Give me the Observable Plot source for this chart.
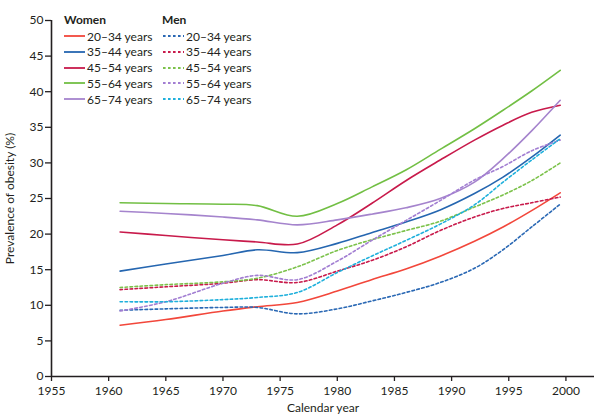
<!DOCTYPE html>
<html>
<head>
<meta charset="utf-8">
<script src="https://cdn.jsdelivr.net/npm/d3@7"></script>
<script src="https://cdn.jsdelivr.net/npm/@observablehq/plot@0.6"></script>
<style>
  html, body { margin: 0; padding: 0; background: #fff; }
  #wrap { position: relative; width: 600px; height: 418px; font-family: Lato, "Open Sans", sans-serif; color: #231f20; }
  #legend { position: absolute; left: 0; top: 0; font-size: 12px; }
  .lg-title { position: absolute; font-weight: bold; }
  .lg-row { position: absolute; display: flex; align-items: center; white-space: nowrap; }
  .lg-row svg { margin-right: 2px; }
</style>
</head>
<body>
<div id="wrap"><div id="chart"></div><div id="legend"></div></div>
<script>
// ---- data ----
const years = [1961, 1965, 1970, 1973, 1976.5, 1980, 1983, 1986, 1989, 1992, 1994.5, 1997, 1999.5];
const ageGroups = ["20–34 years", "35–44 years", "45–54 years", "55–64 years", "65–74 years"];
const womenColors = ["#f2473b", "#2566b0", "#c81a4b", "#72bf44", "#a584cd"];
const menColors   = ["#2a68b4", "#c81a4b", "#7cc24b", "#a27ed2", "#1fb0dc"];
const women20_34 = [7.2, 8.0, 9.2, 9.8, 10.4, 12.0, 13.6, 15.1, 16.9, 19.0, 21.0, 23.3, 25.8];
const women35_44 = [14.8, 15.8, 17.0, 17.8, 17.4, 18.7, 20.2, 21.7, 23.4, 25.7, 28.0, 30.8, 33.9];
const women45_54 = [20.3, 19.8, 19.2, 18.9, 18.6, 21.3, 24.3, 27.5, 30.4, 33.2, 35.3, 37.1, 38.1];
const women55_64 = [24.4, 24.3, 24.2, 24.0, 22.5, 24.3, 26.6, 29.0, 31.9, 34.8, 37.4, 40.1, 43.0];
const women65_74 = [23.2, 22.9, 22.4, 22.0, 21.3, 22.0, 22.8, 23.7, 25.0, 27.3, 30.6, 34.5, 38.8];
const men20_34 = [9.3, 9.5, 9.7, 9.7, 8.8, 9.5, 10.6, 11.8, 13.2, 15.2, 17.8, 21.0, 24.2];
const men35_44 = [12.2, 12.6, 13.1, 13.6, 13.2, 14.8, 16.3, 18.2, 20.5, 22.4, 23.6, 24.4, 25.2];
const men45_54 = [12.5, 12.9, 13.3, 13.8, 15.4, 17.7, 19.2, 20.5, 21.8, 23.8, 25.5, 27.5, 30.0];
const men55_64 = [9.2, 10.5, 13.1, 14.2, 13.6, 16.2, 19.1, 21.9, 24.7, 27.6, 29.5, 31.7, 33.2];
const men65_74 = [10.5, 10.5, 10.8, 11.1, 11.8, 14.6, 16.9, 19.1, 21.4, 24.1, 27.3, 30.4, 33.4];
const xTicks = [1955, 1960, 1965, 1970, 1975, 1980, 1985, 1990, 1995, 2000];
const yTicks = [0, 5, 10, 15, 20, 25, 30, 35, 40, 45, 50];

const womenSeries = [women20_34, women35_44, women45_54, women55_64, women65_74];
const menSeries = [men20_34, men35_44, men45_54, men55_64, men65_74];

function rows(seriesList, sex) {
  const out = [];
  seriesList.forEach((vals, i) => {
    vals.forEach((v, j) => out.push({sex, group: ageGroups[i], idx: i, year: years[j], value: v}));
  });
  return out;
}
const womenData = rows(womenSeries, "Women");
const menData = rows(menSeries, "Men");

const ink = "#231f20";
const marks = [];
womenSeries.forEach((_, i) => {
  marks.push(Plot.line(womenData.filter(d => d.idx === i), {
    x: "year", y: "value", stroke: womenColors[i], strokeWidth: 1.6, curve: "catmull-rom"
  }));
});
menSeries.forEach((_, i) => {
  marks.push(Plot.line(menData.filter(d => d.idx === i), {
    x: "year", y: "value", stroke: menColors[i], strokeWidth: 1.6, strokeDasharray: "2.6,2.4", curve: "catmull-rom"
  }));
});

const chart = Plot.plot({
  width: 600,
  height: 418,
  marginLeft: 51,
  marginRight: 6,
  marginTop: 20,
  marginBottom: 42,
  style: {fontFamily: "Lato, 'Open Sans', sans-serif", fontSize: "12px", color: ink, background: "#fff"},
  x: {domain: [1955, 2002.5]},
  y: {domain: [0, 50]},
  marks: [
    Plot.axisX({ticks: xTicks, tickFormat: d => String(d), tickSize: 5, tickPadding: 5, stroke: ink, strokeWidth: 1.3, fill: ink,
      label: "Calendar year", labelAnchor: "center", labelArrow: "none", labelOffset: 35}),
    Plot.axisY({ticks: yTicks, tickSize: 6, tickPadding: 2, stroke: ink, strokeWidth: 1.3, fill: ink,
      label: "Prevalence of obesity (%)", labelAnchor: "center", labelArrow: "none", labelOffset: 46}),
    ...marks,
    Plot.ruleY([0], {stroke: ink, strokeWidth: 1.6}),
    Plot.ruleX([1955], {stroke: ink, strokeWidth: 1.6})
  ]
});
document.getElementById("chart").appendChild(chart);

// ---- legend (HTML overlay) ----
const legend = document.getElementById("legend");
function addTitle(text, left) {
  const t = document.createElement("div");
  t.className = "lg-title"; t.textContent = text;
  t.style.left = left + "px"; t.style.top = "12px";
  legend.appendChild(t);
}
function addRow(label, color, dashed, left, top) {
  const r = document.createElement("div");
  r.className = "lg-row";
  r.style.left = left + "px"; r.style.top = (top - 8) + "px"; r.style.height = "16px";
  r.innerHTML = `<svg width="21" height="4"><line x1="0" y1="2" x2="21" y2="2" stroke="${color}" stroke-width="1.8" ${dashed ? 'stroke-dasharray="2.6,2.4"' : ''}/></svg><span>${label}</span>`;
  legend.appendChild(r);
}
addTitle("Women", 64);
addTitle("Men", 162);
ageGroups.forEach((g, i) => {
  addRow(g, womenColors[i], false, 64, 36 + i * 15.8);
  addRow(g, menColors[i], true, 163, 36 + i * 15.8);
});
</script>
</body>
</html>
